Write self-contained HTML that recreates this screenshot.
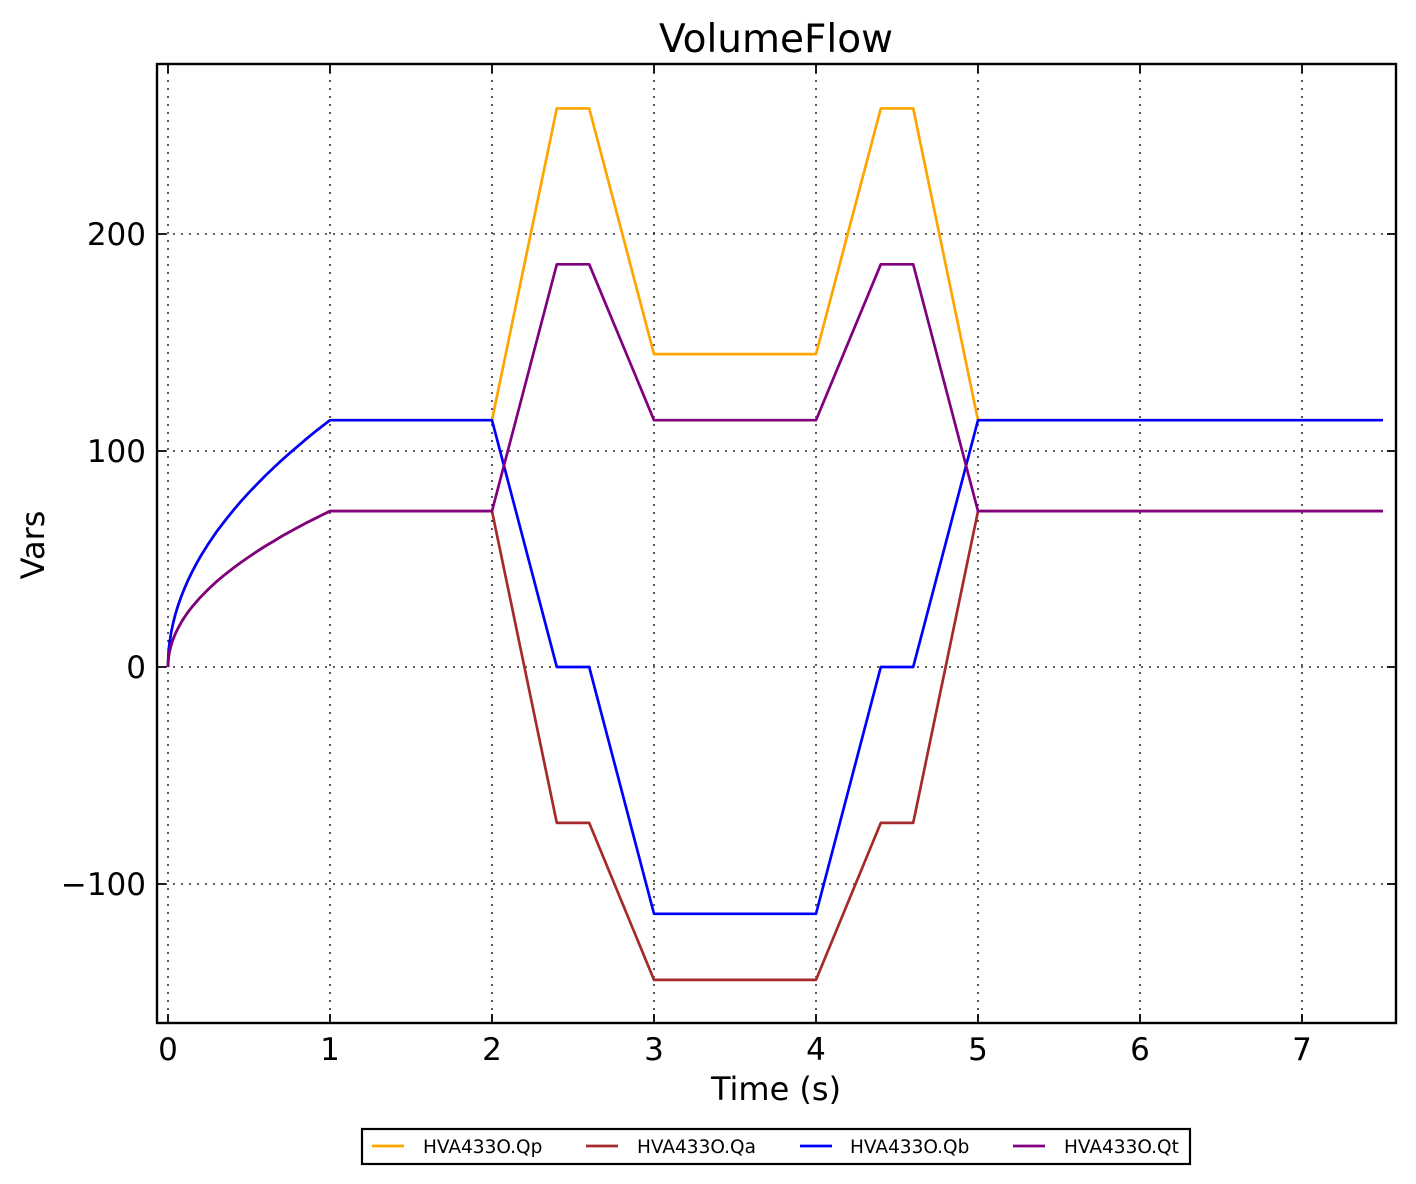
<!DOCTYPE html>
<html><head><style>body{margin:0;background:#fff}svg{display:block}</style></head>
<body>
<svg width="1416" height="1184" xmlns="http://www.w3.org/2000/svg" font-family="DejaVu Sans, Liberation Sans, sans-serif">
<rect width="1416" height="1184" fill="#fff"/>
<text x="776" y="52" font-size="39" text-anchor="middle">VolumeFlow</text>
<g stroke="#000" stroke-width="1.3" stroke-dasharray="2,6">
<line x1="168" y1="64" x2="168" y2="1023"/><line x1="330" y1="64" x2="330" y2="1023"/><line x1="492" y1="64" x2="492" y2="1023"/><line x1="654" y1="64" x2="654" y2="1023"/><line x1="816" y1="64" x2="816" y2="1023"/><line x1="978" y1="64" x2="978" y2="1023"/><line x1="1140" y1="64" x2="1140" y2="1023"/><line x1="1302" y1="64" x2="1302" y2="1023"/>
<line x1="157" y1="234" x2="1396" y2="234"/><line x1="157" y1="451" x2="1396" y2="451"/><line x1="157" y1="667" x2="1396" y2="667"/><line x1="157" y1="884" x2="1396" y2="884"/>
</g>
<g stroke="#000" stroke-width="1.8">
<path d="M168 1023v-9M330 1023v-9M492 1023v-9M654 1023v-9M816 1023v-9M978 1023v-9M1140 1023v-9M1302 1023v-9M168 64v9M330 64v9M492 64v9M654 64v9M816 64v9M978 64v9M1140 64v9M1302 64v9M157 234h9M157 451h9M157 667h9M157 884h9M1396 234h-9M1396 451h-9M1396 667h-9M1396 884h-9"/>
</g>
<g transform="matrix(162,0,0,-2.165,168,667)" fill="none" stroke-width="2.7" stroke-linejoin="round">
<polyline vector-effect="non-scaling-stroke" stroke="#ffa500" points="0,0 0.002,5.1 0.005,8.1 0.01,11.4 0.02,16.1 0.03,19.7 0.045,24.2 0.06,27.9 0.08,32.2 0.1,36 0.125,40.3 0.15,44.1 0.175,47.7 0.2,51 0.25,57 0.3,62.5 0.35,67.4 0.4,72.1 0.45,76.5 0.5,80.6 0.55,84.5 0.6,88.3 0.65,91.9 0.7,95.4 0.75,98.7 0.8,101.9 0.85,105.1 0.9,108.2 0.95,111.1 1,114 2,114 2.4,258 2.6,258 3,144.5 4,144.5 4.4,258 4.6,258 5,114 7.5,114"/>
<polyline vector-effect="non-scaling-stroke" stroke="#a52a2a" points="0,0 0.002,3.2 0.005,5.1 0.01,7.2 0.02,10.2 0.03,12.5 0.045,15.3 0.06,17.6 0.08,20.4 0.1,22.8 0.125,25.5 0.15,27.9 0.175,30.1 0.2,32.2 0.25,36 0.3,39.5 0.35,42.6 0.4,45.5 0.45,48.3 0.5,50.9 0.55,53.4 0.6,55.8 0.65,58 0.7,60.3 0.75,62.4 0.8,64.4 0.85,66.4 0.9,68.3 0.95,70.2 1,72 2,72 2.4,-72 2.6,-72 3,-144.5 4,-144.5 4.4,-72 4.6,-72 5,72 7.5,72"/>
<polyline vector-effect="non-scaling-stroke" stroke="#0000ff" points="0,0 0.002,5.1 0.005,8.1 0.01,11.4 0.02,16.1 0.03,19.7 0.045,24.2 0.06,27.9 0.08,32.2 0.1,36 0.125,40.3 0.15,44.1 0.175,47.7 0.2,51 0.25,57 0.3,62.5 0.35,67.4 0.4,72.1 0.45,76.5 0.5,80.6 0.55,84.5 0.6,88.3 0.65,91.9 0.7,95.4 0.75,98.7 0.8,101.9 0.85,105.1 0.9,108.2 0.95,111.1 1,114 2,114 2.4,0 2.6,0 3,-114 4,-114 4.4,0 4.6,0 5,114 7.5,114"/>
<polyline vector-effect="non-scaling-stroke" stroke="#800080" points="0,0 0.002,3.2 0.005,5.1 0.01,7.2 0.02,10.2 0.03,12.5 0.045,15.3 0.06,17.6 0.08,20.4 0.1,22.8 0.125,25.5 0.15,27.9 0.175,30.1 0.2,32.2 0.25,36 0.3,39.5 0.35,42.6 0.4,45.5 0.45,48.3 0.5,50.9 0.55,53.4 0.6,55.8 0.65,58 0.7,60.3 0.75,62.4 0.8,64.4 0.85,66.4 0.9,68.3 0.95,70.2 1,72 2,72 2.4,186 2.6,186 3,114 4,114 4.4,186 4.6,186 5,72 7.5,72"/>
</g>
<rect x="157" y="64" width="1239" height="959" fill="none" stroke="#000" stroke-width="2.4"/>
<g font-size="31" text-anchor="middle">
<text x="168" y="1060">0</text><text x="330" y="1060">1</text><text x="492" y="1060">2</text><text x="654" y="1060">3</text><text x="816" y="1060">4</text><text x="978" y="1060">5</text><text x="1140" y="1060">6</text><text x="1302" y="1060">7</text>
</g>
<g font-size="31" text-anchor="end">
<text x="146" y="245">200</text><text x="146" y="462">100</text><text x="146" y="678">0</text><text x="146" y="895">−100</text>
</g>
<text x="776" y="1100" font-size="32" text-anchor="middle">Time (s)</text>
<text transform="translate(44,545) rotate(-90)" font-size="32" text-anchor="middle">Vars</text>
<rect x="362" y="1129" width="828" height="35" fill="#fff" stroke="#000" stroke-width="2.2"/>
<g stroke-width="2.7">
<line x1="372" y1="1146" x2="404" y2="1146" stroke="#ffa500"/>
<line x1="586" y1="1146" x2="618" y2="1146" stroke="#a52a2a"/>
<line x1="800" y1="1146" x2="832" y2="1146" stroke="#0000ff"/>
<line x1="1013" y1="1146" x2="1045" y2="1146" stroke="#800080"/>
</g>
<g font-size="18.5">
<text x="423" y="1153">HVA433O.Qp</text><text x="637" y="1153">HVA433O.Qa</text><text x="850" y="1153">HVA433O.Qb</text><text x="1064" y="1153">HVA433O.Qt</text>
</g>
</svg>
</body></html>
